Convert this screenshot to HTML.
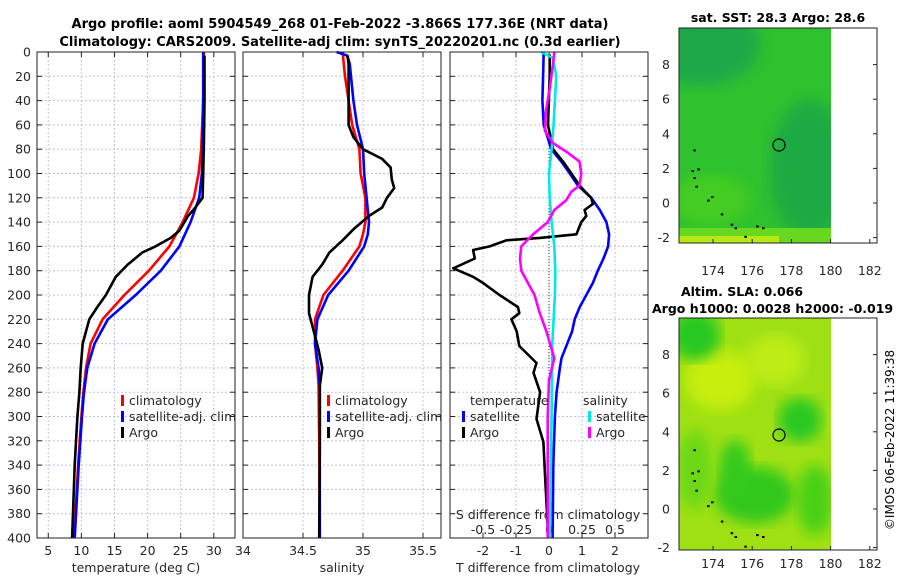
<!DOCTYPE html>
<html><head><meta charset="utf-8">
<style>
html,body{margin:0;padding:0;background:#fff;}
svg{display:block;font-family:"DejaVu Sans","Liberation Sans",sans-serif;}
</style></head>
<body>
<svg id="fig" width="900" height="580" viewBox="0 0 900 580" xmlns="http://www.w3.org/2000/svg">
<defs>
<filter id="blur8"><feGaussianBlur stdDeviation="7"/></filter>
<clipPath id="clipM2"><rect x="679" y="318" width="152" height="232"/></clipPath>
<clipPath id="clipM1"><rect x="679" y="28" width="152" height="215"/></clipPath>
</defs>
<text x="340" y="28" text-anchor="middle" font-size="13" font-weight="bold">Argo profile: aoml 5904549_268 01-Feb-2022 -3.866S 177.36E (NRT data)</text>
<text x="340" y="46" text-anchor="middle" font-size="13" font-weight="bold">Climatology: CARS2009. Satellite-adj clim: synTS_20220201.nc (0.3d earlier)</text>

<g id="maps">
<text x="778" y="22" text-anchor="middle" font-size="12.5" font-weight="bold">sat. SST: 28.3 Argo: 28.6</text>
<g clip-path="url(#clipM1)">
<rect x="679" y="28" width="152" height="215" fill="#2ec22e"/>
<ellipse cx="700" cy="45" rx="60" ry="40" fill="#1aa84a" filter="url(#blur8)"/>
<ellipse cx="810" cy="170" rx="40" ry="70" fill="#1faa42" filter="url(#blur8)"/>
<ellipse cx="710" cy="200" rx="40" ry="25" fill="#44cc22" filter="url(#blur8)"/>
<rect x="679" y="228" width="152" height="15" fill="#66d820"/>
<rect x="679" y="236" width="100" height="7" fill="#b8e814"/>
</g>
<rect x="679" y="28" width="198" height="215" fill="none" stroke="#222" stroke-width="1"/>
<circle cx="779" cy="145" r="6" fill="none" stroke="#000" stroke-width="1.2"/>
<text x="742" y="296" text-anchor="middle" font-size="12.5" font-weight="bold">Altim. SLA: 0.066</text>
<text x="652" y="313" font-size="12.5" font-weight="bold">Argo h1000: 0.0028 h2000: -0.019</text>
<g clip-path="url(#clipM2)">
<rect x="679" y="318" width="152" height="232" fill="#9ee014"/>
<ellipse cx="720" cy="380" rx="35" ry="30" fill="#c8ee10" filter="url(#blur8)"/>
<ellipse cx="775" cy="360" rx="30" ry="25" fill="#bdec12" filter="url(#blur8)"/>
<ellipse cx="695" cy="335" rx="25" ry="25" fill="#28c820" filter="url(#blur8)"/>
<ellipse cx="800" cy="420" rx="22" ry="22" fill="#2cc820" filter="url(#blur8)"/>
<ellipse cx="755" cy="495" rx="40" ry="28" fill="#30c81c" filter="url(#blur8)"/>
<ellipse cx="735" cy="470" rx="16" ry="30" fill="#34ca1c" filter="url(#blur8)"/>
<ellipse cx="815" cy="500" rx="18" ry="35" fill="#48d018" filter="url(#blur8)"/>
<ellipse cx="695" cy="470" rx="18" ry="40" fill="#6cd816" filter="url(#blur8)"/>
</g>
<rect x="679" y="318" width="198" height="232" fill="none" stroke="#222" stroke-width="1"/>
<circle cx="779" cy="435" r="6" fill="none" stroke="#000" stroke-width="1.2"/>
<text transform="translate(894,440) rotate(-90)" text-anchor="middle" font-size="12">©IMOS 06-Feb-2022 11:39:38</text>
</g>
<g id="plots"></g>
</svg>
<script>
// ---- data ----
const depthTicks = [0,20,40,60,80,100,120,140,160,180,200,220,240,260,280,300,320,340,360,380,400];
const tempTicks = [5,10,15,20,25,30];
const salTicks = [34,34.5,35,35.5];
const salTickLabels = ["34","34.5","35","35.5"];
const tdiffTicks = [-2,-1,0,1,2];
const sdiffTicks = [-0.5,-0.25,0,0.25,0.5];
const sdiffTickLabels = ["-0.5","-0.25","0","0.25","0.5"];

const tClimDepth = [0,40,80,100,120,140,160,180,200,220,240,260,280,300,340,400];
const tClim      = [28.5,28.4,28.1,27.7,27.0,25.3,23.3,20.2,16.5,13.2,11.4,10.7,10.3,10.0,9.5,8.9];
const tSatDepth  = [0,40,80,100,120,140,160,180,200,220,240,260,280,300,340,400];
const tSat       = [28.4,28.4,28.3,28.2,27.8,26.5,24.8,22.0,18.2,14.0,12.0,10.9,10.4,10.1,9.6,9.0];
const tArgoDepth = [3,40,75,100,120,130,135,147,153,160,165,175,185,200,210,220,230,240,260,280,300,340,400];
const tArgo      = [28.6,28.6,28.5,28.4,28.3,26.9,26.1,24.8,23.5,21.2,19.2,17.0,15.2,13.7,12.4,11.2,10.7,10.2,9.9,9.7,9.4,9.0,8.6];

const sClimDepth = [0,20,60,80,100,120,140,150,160,180,200,220,240,260,275,320,400];
const sClim      = [34.83,34.85,34.91,34.97,34.98,35.02,35.02,35.0,34.97,34.83,34.67,34.6,34.6,34.62,34.63,34.635,34.64];
const sSatDepth  = [0,3,10,40,60,80,100,120,140,150,160,180,200,220,240,260,275,320,400];
const sSat       = [34.78,34.87,34.89,34.92,34.95,35.0,35.01,35.03,35.05,35.04,35.01,34.88,34.71,34.62,34.6,34.63,34.64,34.64,34.64];
const sArgoDepth = [3,10,40,60,70,80,88,95,105,112,120,128,135,145,155,165,175,185,200,215,230,245,260,275,320,400];
const sArgo      = [34.87,34.88,34.88,34.88,34.92,35.0,35.16,35.23,35.24,35.26,35.2,35.16,35.05,34.93,34.83,34.72,34.66,34.58,34.55,34.55,34.59,34.63,34.66,34.64,34.64,34.635];

const dTSatDepth = [0,20,40,60,80,90,100,110,120,130,140,150,160,170,180,190,200,210,220,230,252,260,280,300,340,400];
const dTSat      = [-0.16,-0.18,-0.2,-0.16,0.07,0.37,0.63,0.88,1.28,1.54,1.74,1.82,1.79,1.65,1.48,1.33,1.13,0.93,0.78,0.7,0.38,0.33,0.23,0.18,0.13,0.11];
const dTArgoDepth = [2,20,60,80,90,100,110,115,120,125,130,135,140,150,153,155,160,163,170,178,185,190,200,210,215,220,230,242,256,264,280,302,321,348,400];
const dTArgo      = [0.02,0.02,-0.03,0.12,0.42,0.68,0.93,1.1,1.28,1.33,1.08,1.13,0.98,0.83,-0.28,-1.29,-1.8,-2.3,-2.25,-2.9,-2.3,-2.0,-1.5,-0.94,-0.9,-1.14,-0.98,-0.9,-0.38,-0.47,-0.27,-0.38,-0.17,-0.12,-0.02];
const dSArgoDepth = [0,10,30,50,65,75,82,90,100,110,115,122,130,140,150,160,170,180,190,200,215,230,252,270,300,340,400];
const dSArgo      = [0.04,0.03,0.005,-0.025,-0.03,0.03,0.13,0.23,0.245,0.23,0.17,0.13,0.04,-0.01,-0.12,-0.21,-0.22,-0.21,-0.16,-0.11,-0.07,-0.02,0.04,0.0,-0.01,-0.01,-0.01];
const dSSatDepth = [0,5,20,40,60,80,100,120,140,160,180,200,220,240,300,400];
const dSSat      = [-0.06,0.03,0.055,0.045,0.035,0.02,0.0,0.005,0.02,0.04,0.048,0.045,0.035,0.025,0.02,0.005];

// ---- layout ----
const NS = "http://www.w3.org/2000/svg";
const root = document.getElementById('plots');
const Y0 = 52, Y1 = 538, DMAX = 400;
const yOf = d => Y0 + (d / DMAX) * (Y1 - Y0);
const panels = [
  {x0:37, x1:235, lo:3.3, hi:33.2},
  {x0:243, x1:441, lo:34, hi:35.65},
  {x0:450, x1:648, lo:-3, hi:3}
];
function xf(p){ return v => p.x0 + (v - p.lo) / (p.hi - p.lo) * (p.x1 - p.x0); }
const xT = xf(panels[0]), xS = xf(panels[1]), xD = xf(panels[2]);
const xSD = v => xD(v * 4);

function mk(tag, attrs, parent){
  const e = document.createElementNS(NS, tag);
  for (const k in attrs) e.setAttribute(k, attrs[k]);
  (parent || root).appendChild(e);
  return e;
}
function txt(s, x, y, size, anchor, name){
  const t = mk('text', {x:x, y:y, 'font-size':size, 'text-anchor':anchor || 'middle', fill:'#262626'});
  t.textContent = s;
  
  
  return t;
}
function line(xs, ds, xfun, color, name, w){
  const pts = xs.map((v,i) => xfun(v).toFixed(1) + ',' + yOf(ds[i]).toFixed(1)).join(' ');
  const p = mk('polyline', {points:pts, fill:'none', stroke:color, 'stroke-width':w || 2.6, 'stroke-linejoin':'round'});
  
  
}

panels.forEach((p, i) => {
  const xfun = xf(p);
  const g = mk('g', {});
  
  
  depthTicks.forEach(d => {
    if (d === 0 || d === 400) return;
    mk('line', {x1:p.x0, x2:p.x1, y1:yOf(d), y2:yOf(d), stroke:'#b8c4e8', 'stroke-width':1, 'stroke-dasharray':'2,2'}, g);
    mk('line', {x1:p.x0, x2:p.x0+5, y1:yOf(d), y2:yOf(d), stroke:'#222'}, g);
    mk('line', {x1:p.x1-5, x2:p.x1, y1:yOf(d), y2:yOf(d), stroke:'#222'}, g);
  });
  const vt = i === 0 ? tempTicks : i === 1 ? salTicks : tdiffTicks;
  vt.forEach(v => {
    const x = xfun(v);
    mk('line', {x1:x, x2:x, y1:Y0, y2:Y1, stroke:'#c8c0e0', 'stroke-width':1, 'stroke-dasharray':'2,2'}, g);
    mk('line', {x1:x, x2:x, y1:Y1-5, y2:Y1, stroke:'#222'}, g);
    mk('line', {x1:x, x2:x, y1:Y0, y2:Y0+5, stroke:'#222'}, g);
  });
});

// y labels
depthTicks.forEach(d => txt(String(d), 31, yOf(d) + 4.5, 12.5, 'end', 'y-tick-label'));
tempTicks.forEach(v => txt(String(v), xT(v), 555, 12.5, 'middle', 'temp-tick-label'));
salTicks.forEach((v, i) => txt(salTickLabels[i], xS(v), 555, 12.5, 'middle', 'sal-tick-label'));
tdiffTicks.forEach(v => txt(String(v), xD(v), 555, 12.5, 'middle', 'tdiff-tick-label'));
sdiffTicks.forEach((v, i) => txt(sdiffTickLabels[i], xSD(v), 534, 12.5, 'middle', 'sdiff-tick-label'));
txt('temperature (deg C)', 136, 572, 12.5, 'middle', 'x-axis-title-temperature');
txt('salinity', 342, 572, 12.5, 'middle', 'x-axis-title-salinity');
txt('T difference from climatology', 548, 572, 12.5, 'middle', 'x-axis-title-tdiff');
txt('S difference from climatology', 548, 519, 12.5, 'middle', 'x-axis-title-sdiff');

// zero dotted line
const z = mk('line', {x1:xD(0), x2:xD(0), y1:Y0, y2:yOf(270), stroke:'#333', 'stroke-dasharray':'1,2', 'stroke-width':1});



// series
line(tClim, tClimDepth, xT, '#ff0000', 'temp-climatology-line');
line(tSat, tSatDepth, xT, '#0000ff', 'temp-satellite-line');
line(tArgo, tArgoDepth, xT, '#000000', 'temp-argo-line');
line(sClim, sClimDepth, xS, '#ff0000', 'sal-climatology-line');
line(sSat, sSatDepth, xS, '#0000ff', 'sal-satellite-line');
line(sArgo, sArgoDepth, xS, '#000000', 'sal-argo-line');
line(dTSat, dTSatDepth, xD, '#0000ff', 'tdiff-satellite-line');
line(dTArgo, dTArgoDepth, xD, '#000000', 'tdiff-argo-line');
line(dSSat, dSSatDepth, xSD, '#00e8e8', 'sdiff-satellite-line');
line(dSArgo, dSArgoDepth, xSD, '#ff00ff', 'sdiff-argo-line');

// frames
panels.forEach((p, i) => {
  const r = mk('rect', {x:p.x0, y:Y0, width:p.x1-p.x0, height:Y1-Y0, fill:'none', stroke:'#222', 'stroke-width':1});
  
  
});

// legends
function entry(x, y, color, label, name){
  const g = mk('g', {});
  
  
  mk('rect', {x:x, y:y-10, width:3, height:11, fill:color}, g);
  const t = mk('text', {x:x+8, y:y, 'font-size':12.5, fill:'#262626'}, g);
  t.textContent = label;
}
entry(121, 405, '#ff0000', 'climatology', 'legend-entry-climatology');
entry(121, 421, '#0000ff', 'satellite-adj. clim', 'legend-entry-satellite-adj');
entry(121, 437, '#000000', 'Argo', 'legend-entry-argo');
entry(327, 405, '#ff0000', 'climatology', 'legend-entry-sal-climatology');
entry(327, 421, '#0000ff', 'satellite-adj. clim', 'legend-entry-sal-satellite-adj');
entry(327, 437, '#000000', 'Argo', 'legend-entry-sal-argo');
txt('temperature', 470, 405, 12.5, 'start', 'legend-title-temperature');
entry(462, 421, '#0000ff', 'satellite', 'legend-entry-tdiff-satellite');
entry(462, 437, '#000000', 'Argo', 'legend-entry-tdiff-argo');
txt('salinity', 583, 405, 12.5, 'start', 'legend-title-salinity');
entry(588, 421, '#00e8e8', 'satellite', 'legend-entry-sdiff-satellite');
entry(588, 437, '#ff00ff', 'Argo', 'legend-entry-sdiff-argo');

// map axes
const mapLonTicks = [174,176,178,180,182];
const mapLatTicks = [8,6,4,2,0,-2];
const lonX = lon => 713 + (lon - 174) * 39.2 / 2;
const lat1Y = lat => 203 - lat * 17.3;
const lat2Y = lat => 509 - lat * 19.3;
mapLonTicks.forEach(l => {
  txt(String(l), lonX(l), 275, 12.5, 'middle', 'sst-map-lon-label');
  txt(String(l), lonX(l), 568, 12.5, 'middle', 'sla-map-lon-label');
  mk('line', {x1:lonX(l), x2:lonX(l), y1:243, y2:239, stroke:'#222'});
  mk('line', {x1:lonX(l), x2:lonX(l), y1:550, y2:546, stroke:'#222'});
});
mapLatTicks.forEach(l => {
  txt(String(l), 670, lat1Y(l) + 4.5, 12.5, 'end', 'sst-map-lat-label');
  txt(String(l), 670, lat2Y(l) + 4.5, 12.5, 'end', 'sla-map-lat-label');
  mk('line', {x1:873, x2:877, y1:lat1Y(l), y2:lat1Y(l), stroke:'#222'});
  mk('line', {x1:873, x2:877, y1:lat2Y(l), y2:lat2Y(l), stroke:'#222'});
});
// islands (small coastline marks)
const islandLon = [173.0,172.9,173.0,173.1,173.2,173.7,173.9,174.4,174.9,175.1,175.6,176.2,176.5];
const islandLat = [3.1,1.9,1.5,1.0,2.0,0.2,0.4,-0.6,-1.2,-1.4,-1.9,-1.3,-1.4];
islandLon.forEach((lo, i) => {
  mk('rect', {x:lonX(lo), y:lat1Y(islandLat[i]), width:2.5, height:2, fill:'#000'});
  mk('rect', {x:lonX(lo), y:lat2Y(islandLat[i]), width:2.5, height:2, fill:'#000'});
});
</script>
</body></html>
